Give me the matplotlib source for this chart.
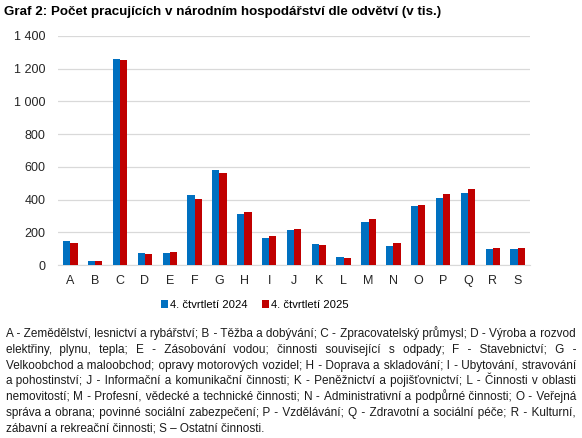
import matplotlib
matplotlib.use("Agg")
import matplotlib.pyplot as plt
import numpy as np
from matplotlib.ticker import FuncFormatter

plt.rcParams['font.family'] = ['Liberation Sans', 'DejaVu Sans']

categories = ["A", "B", "C", "D", "E", "F", "G", "H", "I", "J",
              "K", "L", "M", "N", "O", "P", "Q", "R", "S"]
q4_2024 = [148, 25, 1257, 71, 71, 428, 579, 312, 163, 212,
           129, 47, 261, 118, 359, 412, 443, 96, 96]
q4_2025 = [137, 22, 1253, 65, 77, 403, 560, 322, 179, 218,
           124, 41, 280, 133, 369, 437, 463, 106, 106]
series_labels = ["4. čtvrtletí 2024", "4. čtvrtletí 2025"]
colors = ["#0070C0", "#C00000"]

title = "Graf 2: Počet pracujících v národním hospodářství dle odvětví (v tis.)"
note_lines = [
    "A - Zemědělství, lesnictví a rybářství; B - Těžba a dobývání; C - Zpracovatelský průmysl; D - Výroba a rozvod",
    "elektřiny, plynu, tepla; E - Zásobování vodou; činnosti související s odpady; F - Stavebnictví; G -",
    "Velkoobchod a maloobchod; opravy motorových vozidel; H - Doprava a skladování; I - Ubytování, stravování",
    "a pohostinství; J - Informační a komunikační činnosti; K - Peněžnictví a pojišťovnictví; L - Činnosti v oblasti",
    "nemovitostí; M - Profesní, vědecké a technické činnosti; N - Administrativní a podpůrné činnosti; O - Veřejná",
    "správa a obrana; povinné sociální zabezpečení; P - Vzdělávání; Q - Zdravotní a sociální péče; R - Kulturní,",
    "zábavní a rekreační činnosti; S – Ostatní činnosti.",
]

W, H = 582, 438
fig = plt.figure(figsize=(W / 100, H / 100), dpi=100)
ax = fig.add_axes([58 / W, 1 - 265 / H, (530 - 58) / W, (265 - 36) / H])

x = np.arange(len(categories))
bw = 0.29
ax.bar(x - bw / 2, q4_2024, bw, color=colors[0], label=series_labels[0], zorder=3)
ax.bar(x + bw / 2, q4_2025, bw, color=colors[1], label=series_labels[1], zorder=3)

ax.set_xlim(-0.5, len(categories) - 0.5)
ax.set_ylim(0, 1400)
ax.set_yticks(range(0, 1401, 200))
ax.yaxis.set_major_formatter(FuncFormatter(lambda v, p: f"{int(v):,}".replace(",", " ")))
ax.set_xticks(x)
ax.set_xticklabels(categories)
ax.grid(axis="y", color="#D9D9D9", linewidth=0.9, zorder=0)
for s in ["top", "right", "left"]:
    ax.spines[s].set_visible(False)
ax.spines["bottom"].set_color("#D9D9D9")
ax.tick_params(axis="both", length=0, labelsize=9, colors="#262626")
ax.tick_params(axis="x", pad=7)
ax.tick_params(axis="y", pad=9)

fig.text(4 / W, 1 - 12 / H, title, fontsize=9.6, fontweight="bold", va="center", ha="left")

leg = fig.legend(loc="center", bbox_to_anchor=(255 / W, 1 - 305 / H), ncol=2, frameon=False,
                 fontsize=8.1, handlelength=0.6, handleheight=0.6, handletextpad=0.2,
                 columnspacing=1.3)

# justified note text: one text per line, widened with hair spaces
renderer = fig.canvas.get_renderer()
x0, x1 = 6, 576
fs = 8.45
HAIR = "\u200a"


def width_of(s):
    t = fig.text(0, 0, s, fontsize=fs)
    w = t.get_window_extent(renderer).width
    t.remove()
    return w


hair_w = (width_of("a" + HAIR * 10 + "a") - width_of("aa")) / 10

for i, line in enumerate(note_lines):
    y = 1 - (337 + i * 15.8) / H
    text = line
    if i < len(note_lines) - 1 and hair_w > 0:
        words = line.split(" ")
        ngaps = len(words) - 1
        need = (x1 - x0) - width_of(line)
        count = max(0, int(round(need / hair_w)))
        base, extra = divmod(count, ngaps)
        gaps = []
        for g in range(ngaps):
            add = base + (1 if (g * extra) // ngaps != ((g + 1) * extra) // ngaps else 0)
            gaps.append(" " + HAIR * add)
        text = words[0] + "".join(gp + w for gp, w in zip(gaps, words[1:]))
    fig.text(x0 / W, y, text, fontsize=fs, va="baseline", ha="left", color="#1a1a1a")

fig.savefig("out.png", dpi=100)
